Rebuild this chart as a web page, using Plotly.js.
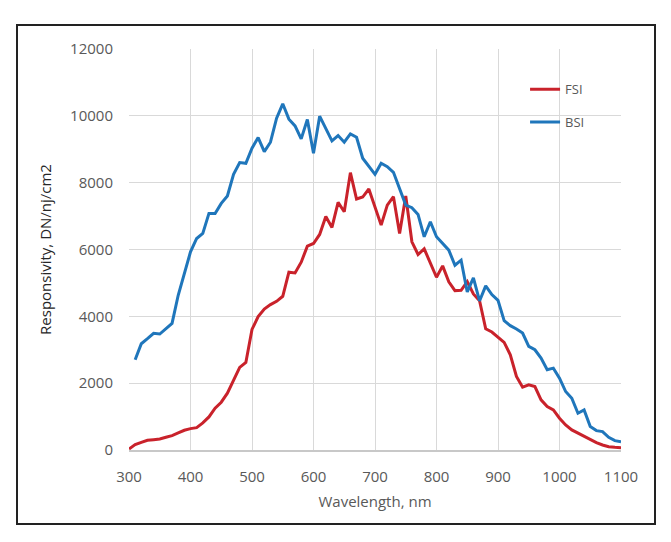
<!DOCTYPE html>
<html>
<head>
<meta charset="utf-8">
<script src="https://cdn.plot.ly/plotly-3.0.1.min.js"></script>
<style>
	body { margin: 0; background: #fff; }
	#wrap { position: relative; width: 671px; height: 542px; }
	#chart { width: 671px; height: 542px; }
	#frame { position: absolute; left: 16px; top: 24px; width: 636px; height: 497px; border: 2px solid #222; pointer-events: none; }
</style>
</head>
<body>
<div id="wrap">
	<div id="chart"></div>
	<div id="frame"></div>
</div>
<script>
	// wavelength, nm
	var fsiX = [300, 310, 320, 330, 340, 350, 360, 370, 380, 390, 400, 410, 420, 430, 440, 450, 460, 470, 480, 490,
		500, 510, 520, 530, 540, 550, 560, 570, 580, 590, 600, 610, 620, 630, 640, 650, 660, 670, 680, 690,
		700, 710, 720, 730, 740, 750, 760, 770, 780, 790, 800, 810, 820, 830, 840, 850, 860, 870, 880, 890,
		900, 910, 920, 930, 940, 950, 960, 970, 980, 990, 1000, 1010, 1020, 1030, 1040, 1050, 1060, 1070, 1080, 1090, 1100];
	var fsiY = [30, 160, 230, 290, 310, 330, 380, 430, 510, 590, 640, 670, 810, 990, 1250, 1430, 1700, 2100, 2470, 2620,
		3610, 3990, 4220, 4350, 4450, 4600, 5320, 5300, 5620, 6100, 6180, 6450, 6990, 6660, 7410, 7130, 8300, 7510, 7570, 7810,
		7280, 6730, 7330, 7580, 6480, 7600, 6230, 5850, 6020, 5580, 5170, 5510, 5030, 4770, 4780, 5040, 4670, 4470, 3630, 3530,
		3380, 3220, 2850, 2200, 1880, 1950, 1900, 1500, 1300, 1200, 950, 750, 600, 500, 400, 300, 220, 150, 100, 80, 70];

	var bsiX = [310, 320, 330, 340, 350, 360, 370, 380, 390, 400, 410, 420, 430, 440, 450, 460, 470, 480, 490,
		500, 510, 520, 530, 540, 550, 560, 570, 580, 590, 600, 610, 620, 630, 640, 650, 660, 670, 680, 690,
		700, 710, 720, 730, 740, 750, 760, 770, 780, 790, 800, 810, 820, 830, 840, 850, 860, 870, 880, 890,
		900, 910, 920, 930, 940, 950, 960, 970, 980, 990, 1000, 1010, 1020, 1030, 1040, 1050, 1060, 1070, 1080, 1090, 1100];
	var bsiY = [2700, 3180, 3330, 3490, 3470, 3630, 3790, 4630, 5280, 5930, 6330, 6480, 7080, 7080, 7380, 7600, 8250, 8600, 8580,
		9030, 9350, 8930, 9210, 9930, 10360, 9900, 9700, 9310, 9890, 8880, 9990, 9630, 9250, 9410, 9210, 9460, 9360, 8730, 8480,
		8250, 8580, 8480, 8310, 7830, 7330, 7250, 7050, 6380, 6830, 6380, 6180, 5980, 5530, 5680, 4730, 5150, 4460, 4910, 4650,
		4480, 3870, 3720, 3620, 3500, 3100, 3000, 2750, 2400, 2450, 2150, 1750, 1550, 1100, 1200, 700, 580, 550, 380, 280, 250];

	var xTicks = [300, 400, 500, 600, 700, 800, 900, 1000, 1100];
	var yTicks = [0, 2000, 4000, 6000, 8000, 10000, 12000];

	var data = [{
		x: fsiX,
		y: fsiY,
		name: 'FSI',
		legendgroup: 'a',
		mode: 'lines',
		line: { color: '#c9222b', width: 3 }
	},
	{
		x: bsiX,
		y: bsiY,
		name: 'BSI',
		legendgroup: 'b',
		mode: 'lines',
		line: { color: '#1f76bb', width: 3 }
	}];

	var layout = {
		width: 671,
		height: 542,
		paper_bgcolor: '#fff',
		plot_bgcolor: '#fff',
		font: { family: 'Open Sans, sans-serif', color: '#595959', size: 15 },
		showlegend: true,
		legend: {
			x: 0.805, y: 0.937, xanchor: 'left', yanchor: 'top',
			bgcolor: 'rgba(0,0,0,0)',
			font: { size: 13, color: '#595959' },
			tracegroupgap: 13,
			itemwidth: 30
		},
		xaxis: {
			range: [300, 1100],
			tickvals: xTicks,
			showgrid: true,
			gridcolor: '#d9d9d9',
			showline: true,
			linecolor: '#c8c8c8',
			linewidth: 1.5,
			zeroline: false,
			ticks: '',
			ticklabelstandoff: 12,
			title: { text: 'Wavelength, nm', font: { size: 15, color: '#595959' }, standoff: 12 }
		},
		yaxis: {
			range: [0, 12000],
			tickvals: yTicks,
			tickformat: 'd',
			showgrid: true,
			gridcolor: '#d9d9d9',
			zeroline: false,
			ticks: '',
			ticklabelstandoff: 15,
			title: { text: 'Responsivity, DN/nj/cm2', font: { size: 15, color: '#262626' }, standoff: 14 }
		},
		margin: { l: 129, r: 50, t: 49, b: 92, pad: 0 }
	};

	Plotly.newPlot('chart', data, layout, { displayModeBar: false, staticPlot: true });
</script>
</body>
</html>
